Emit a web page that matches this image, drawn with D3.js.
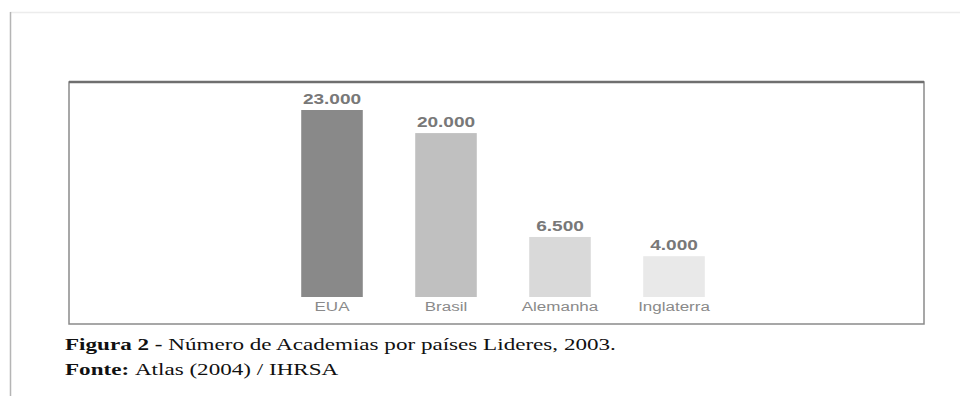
<!DOCTYPE html>
<html>
<head>
<meta charset="utf-8">
<script src="https://cdn.jsdelivr.net/npm/d3@7"></script>
<style>
  body { margin: 0; background: #fff; }
  svg { display: block; }
</style>
</head>
<body>
<svg id="chart" width="960" height="396"></svg>
<script>
const countries = ["EUA", "Brasil", "Alemanha", "Inglaterra"];
const academias = [23000, 20000, 6500, 4000];
const barColors = ["#898989", "#c0c0c0", "#d9d9d9", "#e9e9e9"];

// the scanned figure is stretched sideways, so text gets a wider aspect too
const STRETCH = 1.36;

const svg = d3.select("#chart");

// page edge (scanned document look)
svg.append("line").attr("x1", 10).attr("x2", 960).attr("y1", 12.5).attr("y2", 12.5)
  .attr("stroke", "#ececec").attr("stroke-width", 1.5);
svg.append("line").attr("x1", 10.5).attr("x2", 10.5).attr("y1", 12).attr("y2", 396)
  .attr("stroke", "#b5b5b5").attr("stroke-width", 1.5);

// chart frame
const box = {x0: 69, y0: 82, x1: 924, y1: 324};
svg.append("rect")
  .attr("x", box.x0).attr("y", box.y0)
  .attr("width", box.x1 - box.x0).attr("height", box.y1 - box.y0)
  .attr("fill", "none").attr("stroke", "#8a8a8a").attr("stroke-width", 1.5);
svg.append("line").attr("x1", box.x0).attr("x2", box.x1).attr("y1", box.y0).attr("y2", box.y0)
  .attr("stroke", "#6f6f6f").attr("stroke-width", 2.5);

const x = d3.scaleBand()
  .domain(countries)
  .range([275, 731])
  .paddingInner(0.46)
  .paddingOuter(0.23);

// baseline of the original image sits a bit below zero
const yMin = -1300;
const y = d3.scaleLinear()
  .domain([yMin, 23000])
  .range([297, 110]);

const data = countries.map((c, i) => ({c, v: academias[i], color: barColors[i]}));

svg.selectAll("rect.bar")
  .data(data)
  .join("rect")
  .attr("class", "bar")
  .attr("x", d => x(d.c))
  .attr("width", x.bandwidth())
  .attr("y", d => y(d.v))
  .attr("height", d => y(yMin) - y(d.v))
  .attr("fill", d => d.color);

const fmtInt = v => d3.format(",")(v).replace(/,/g, ".");

svg.selectAll("text.value")
  .data(data)
  .join("text")
  .attr("class", "value")
  .attr("transform", d => `translate(${x(d.c) + x.bandwidth() / 2},${y(d.v) - 6}) scale(${STRETCH},1)`)
  .attr("text-anchor", "middle")
  .attr("font-family", "Liberation Sans, Arial, sans-serif")
  .attr("font-weight", "bold")
  .attr("font-size", 14)
  .attr("fill", "#787878")
  .text(d => fmtInt(d.v));

const xAxis = svg.append("g")
  .attr("transform", `translate(0,${y(yMin)})`)
  .call(d3.axisBottom(x).tickSize(0).tickPadding(0));
xAxis.select(".domain").remove();
xAxis.selectAll("text")
  .attr("y", 0)
  .attr("dy", 0)
  .attr("transform", `translate(0,14) scale(${STRETCH},1)`)
  .attr("font-family", "Liberation Sans, Arial, sans-serif")
  .attr("font-size", 12.5)
  .attr("fill", "#8a8a8a");

// clipped source line hidden under the frame
svg.append("clipPath").attr("id", "cut")
  .append("rect").attr("x", 60).attr("y", 326).attr("width", 300).attr("height", 3);
svg.append("text")
  .attr("clip-path", "url(#cut)")
  .attr("transform", `translate(68,331) scale(${STRETCH},1)`)
  .attr("font-family", "Liberation Sans, Arial, sans-serif")
  .attr("font-size", 7)
  .attr("font-weight", "bold")
  .attr("fill", "#444")
  .text("Fonte: pesquisa realizada junto à IHRSA");

// caption
const cap = svg.append("g")
  .attr("font-family", "Liberation Serif, Times New Roman, serif")
  .attr("font-size", 17.5)
  .attr("fill", "#111");
const l1 = cap.append("text").attr("transform", "translate(65,350) scale(1.32,1)");
l1.append("tspan").attr("font-weight", "bold").text("Figura 2 - ");
l1.append("tspan").text("Número de Academias por países Lideres, 2003.");
const l2 = cap.append("text").attr("transform", "translate(65,375) scale(1.32,1)");
l2.append("tspan").attr("font-weight", "bold").text("Fonte: ");
l2.append("tspan").text("Atlas (2004) / IHRSA");
</script>
</body>
</html>
